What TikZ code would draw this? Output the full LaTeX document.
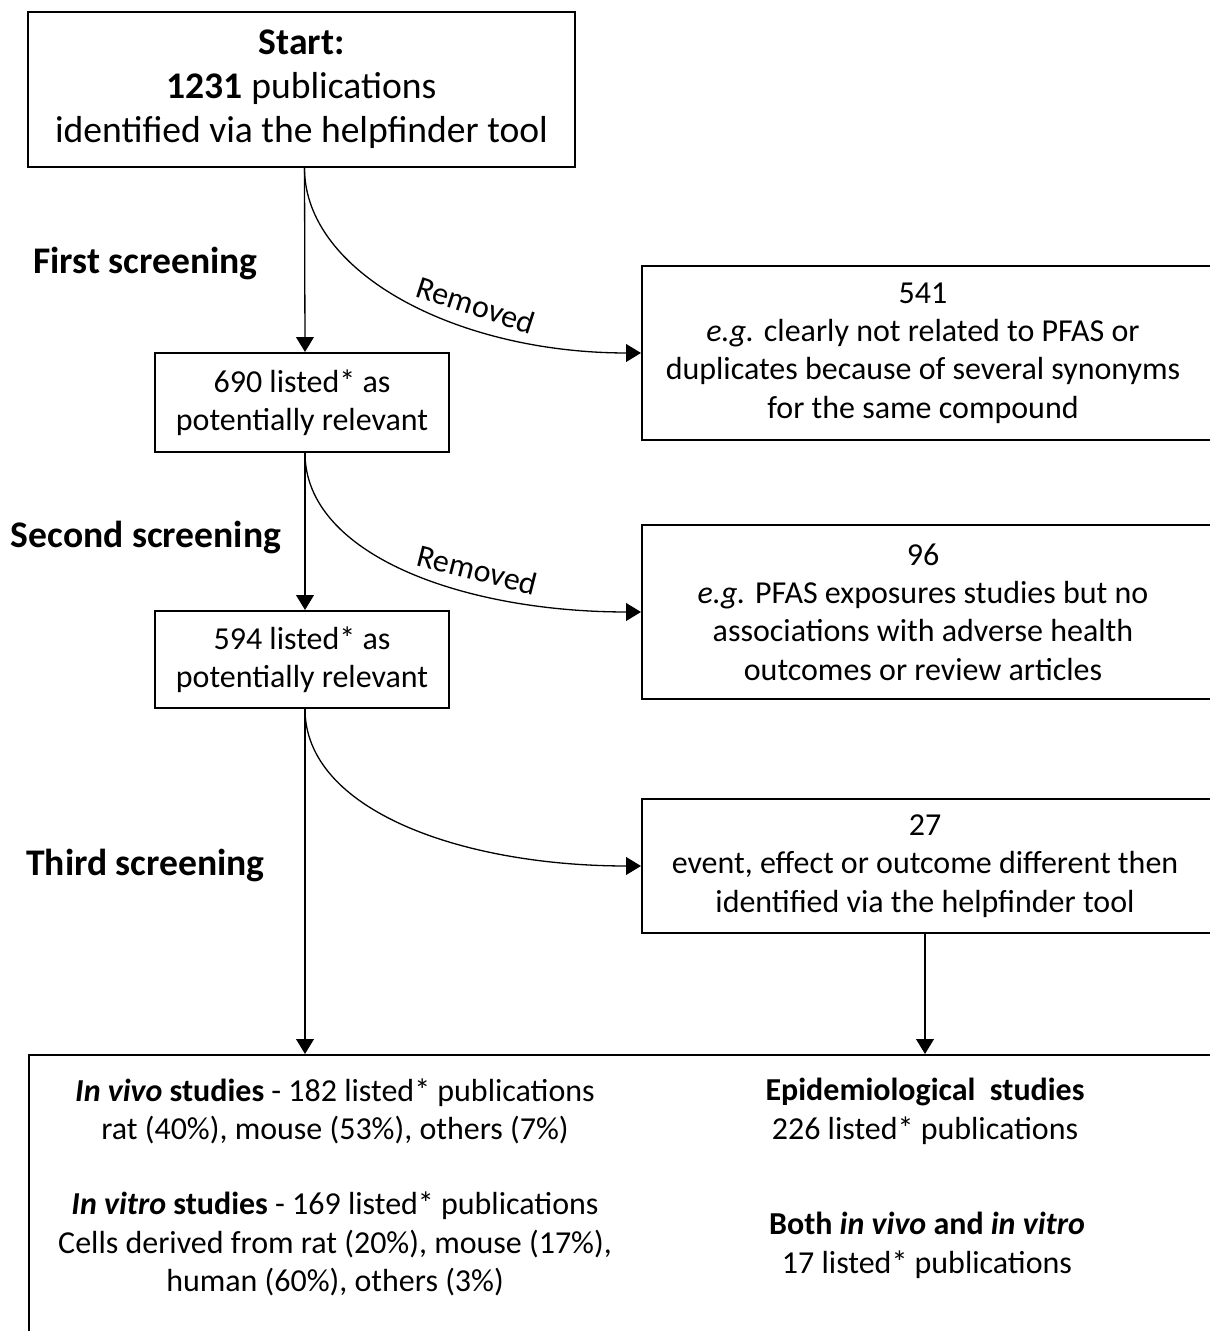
\documentclass[tikz,border=0pt]{standalone}
\usepackage{fontspec}
\setmainfont{Carlito}
\usetikzlibrary{arrows.meta}

\begin{document}
\begin{tikzpicture}[
		box/.style={draw, line width=0.57pt, inner sep=0pt},
		txt/.style={align=center, font=\fontsize{9.1}{10.9}\selectfont},
		big/.style={align=center, font=\fontsize{10.7}{12.5}\selectfont},
		stage/.style={font=\fontsize{10.7}{12.5}\selectfont\bfseries},
		flow/.style={line width=0.37pt, -{Triangle[length=4.2pt, width=5pt]}},
		sweep/.style={out=-90, in=180, out looseness=0.7, in looseness=1.23}
	]
		\useasboundingbox ( 0, 0 ) rectangle ( 12.1, 13.31 );
		\clip ( 0, 0 ) rectangle ( 12.1, 13.31 );

		% start
		\node [box, big, minimum width=5.47cm, minimum height=1.55cm] (start) at ( 3.015, 12.415 ) {\textbf{Start:}\\ \textbf{1231} publications\\ identified via the helpfinder tool};

		% screening stages
		\node [stage] (first) at ( 1.455, 10.67 ) {First screening};
		\node [stage] (second) at ( 1.46, 7.93 ) {Second screening};
		\node [stage] (third) at ( 1.455, 4.66 ) {Third screening};

		% listed publications
		\node [box, txt, minimum width=2.94cm, minimum height=0.99cm] (b690) at ( 3.02, 9.285 ) {690 listed* as\\ potentially relevant};
		\node [box, txt, minimum width=2.94cm, minimum height=0.97cm] (b594) at ( 3.02, 6.715 ) {594 listed* as\\ potentially relevant};

		% removed publications
		\node [box, anchor=west, minimum width=6cm, minimum height=1.74cm] (b541) at ( 6.41, 9.78 ) {};
		\node [txt] (t541) at ( 9.23, 9.78 ) {541\\ \textit{e.g.} clearly not related to PFAS or\\ duplicates because of several synonyms\\ for the same compound};
		\node [box, anchor=west, minimum width=6cm, minimum height=1.74cm] (b96) at ( 6.41, 7.19 ) {};
		\node [txt] (t96) at ( 9.23, 7.19 ) {96\\ \textit{e.g.} PFAS exposures studies but no\\ associations with adverse health\\ outcomes or review articles};
		\node [box, anchor=west, minimum width=6cm, minimum height=1.34cm] (b27) at ( 6.41, 4.65 ) {};
		\node [txt] (t27) at ( 9.25, 4.65 ) {27\\ event, effect or outcome different then\\ identified via the helpfinder tool};

		% final selection
		\node [box, anchor=north west, minimum width=12cm, minimum height=3cm] (final) at ( 0.28, 2.77 ) {};
		\node [txt] (vivo) at ( 3.35, 2.195 ) {\textbf{\textit{In vivo} studies} - 182 listed* publications\\ rat (40\%), mouse (53\%), others (7\%)};
		\node [txt] (vitro) at ( 3.35, 0.87 ) {\textbf{\textit{In vitro} studies} - 169 listed* publications\\ Cells derived from rat (20\%), mouse (17\%),\\ human (60\%), others (3\%)};
		\node [txt] (epi) at ( 9.25, 2.195 ) {\textbf{Epidemiological\ \ studies}\\ 226 listed* publications};
		\node [txt] (both) at ( 9.27, 0.855 ) {\textbf{Both \textit{in vivo} and \textit{in vitro}}\\ 17 listed* publications};

		% arrows
		\draw [flow] ([xshift=0.03cm]start.south) -- ([xshift=0.03cm]b690.north);
		\draw [flow] ([xshift=0.03cm]start.south) to [sweep] node [txt, sloped, above, pos=0.66] (rm1) {Removed} (b541.west);
		\draw [flow] ([xshift=0.03cm]b690.south) -- ([xshift=0.03cm]b594.north);
		\draw [flow] ([xshift=0.03cm]b690.south) to [sweep] node [txt, sloped, above, pos=0.66] (rm2) {Removed} (b96.west);
		\draw [flow] ([xshift=0.03cm]b594.south) -- ([xshift=0.03cm]b594.south |- final.north);
		\draw [flow] ([xshift=0.03cm]b594.south) to [sweep] (b27.west);
		\draw [flow] (t27 |- b27.south) -- (t27 |- final.north);
	\end{tikzpicture}
\end{document}
